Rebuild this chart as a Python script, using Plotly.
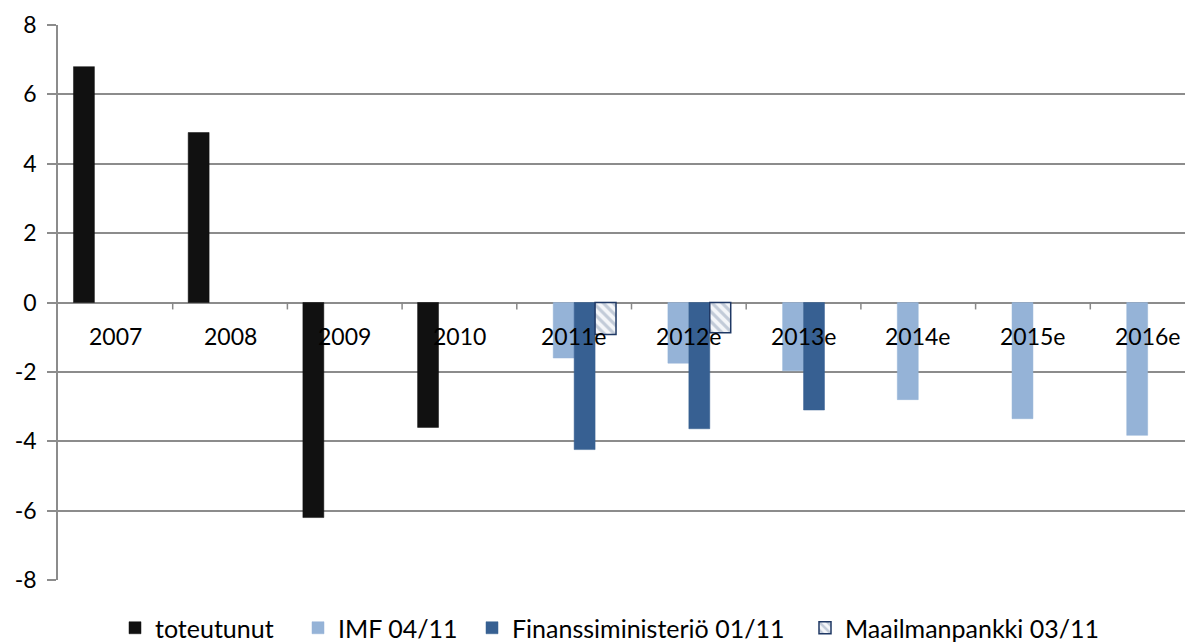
import plotly.graph_objects as go

categories = ["2007", "2008", "2009", "2010", "2011e", "2012e", "2013e", "2014e", "2015e", "2016e"]
toteutunut = [6.8, 4.9, -6.2, -3.6, None, None, None, None, None, None]
imf = [None, None, None, None, -1.6, -1.75, -1.97, -2.8, -3.35, -3.83]
finanssi = [None, None, None, None, -4.24, -3.64, -3.1, None, None, None]
maailmanpankki = [None, None, None, None, -0.92, -0.87, None, None, None, None]
y_ticks = [-8, -6, -4, -2, 0, 2, 4, 6, 8]

FONT = "Lato"
W, H = 1193, 642
OFF = 8  # page body margin

fig = go.Figure()
fig.add_bar(name="toteutunut", x=categories, y=toteutunut, legend="legend",
            marker=dict(color="#111111", line=dict(color="#111111", width=0.5)))
fig.add_bar(name="IMF 04/11", x=categories, y=imf, legend="legend2",
            marker=dict(color="#95b3d7", line=dict(color="#95b3d7", width=0.5)))
fig.add_bar(name="Finanssiministeriö 01/11", x=categories, y=finanssi, legend="legend3",
            marker=dict(color="#376092", line=dict(color="#376092", width=0.5)))
fig.add_bar(name="Maailmanpankki 03/11", x=categories, y=maailmanpankki, legend="legend4",
            marker=dict(color="#f4f6f9",
                        line=dict(color="#1f3864", width=1.5),
                        pattern=dict(shape="\\", fgcolor="#8fa0b8", bgcolor="#f4f6f9",
                                     size=7, solidity=0.45)))

# category labels placed just below the zero line (Excel style)
for i, c in enumerate(categories):
    fig.add_annotation(x=i, y=0, xref="x", yref="y", text=c, showarrow=False,
                       yanchor="middle", yshift=-33,
                       font=dict(family=FONT, size=23, color="#000000"))

# small tick marks on the zero line at category boundaries
for i in range(len(categories) - 1):
    fig.add_shape(type="line", xref="x", yref="y", x0=i + 0.5, x1=i + 0.5,
                  y0=0, y1=-0.2, line=dict(color="#888888", width=1.5))

# legend entries laid out individually (text start pixels)
legend_text_starts = [155, 338, 512, 845]
legend_common = dict(orientation="h", xref="container", yref="container",
                     xanchor="left", yanchor="middle", y=1 - (628 - OFF) / H,
                     font=dict(family=FONT, size=25, color="#000000"),
                     bgcolor="rgba(0,0,0,0)", itemwidth=30)
legends = {}
for k, xs in enumerate(legend_text_starts):
    key = "legend" if k == 0 else f"legend{k + 1}"
    legends[key] = dict(legend_common, x=(xs - OFF - 40) / W)

plot_w = W - (58 - OFF)
fig.update_layout(
    width=W, height=H, autosize=False,
    margin=dict(l=58 - OFF, r=0, t=25 - OFF, b=62 + OFF, autoexpand=False),
    barmode="group", bargap=0.27, bargroupgap=0,
    plot_bgcolor="white", paper_bgcolor="white",
    font=dict(family=FONT, size=22, color="#000000"),
    showlegend=True,
    **legends,
)
fig.update_xaxes(type="category", range=[-0.5, -0.5 + plot_w / 114.7], showticklabels=False,
                 showgrid=False, zeroline=False, showline=False, ticks="")
fig.update_yaxes(range=[-8, 8], tickvals=y_ticks, ticktext=[str(v) for v in y_ticks],
                 showgrid=True, gridcolor="#8c8c8c", gridwidth=1.5,
                 zeroline=False, showline=True, linecolor="#8c8c8c", linewidth=1.5,
                 ticks="outside", ticklen=9, tickcolor="#8c8c8c", tickwidth=1.5,
                 tickfont=dict(family=FONT, size=23, color="#000000"),
                 ticklabelstandoff=6)

fig.write_html("out.html")
